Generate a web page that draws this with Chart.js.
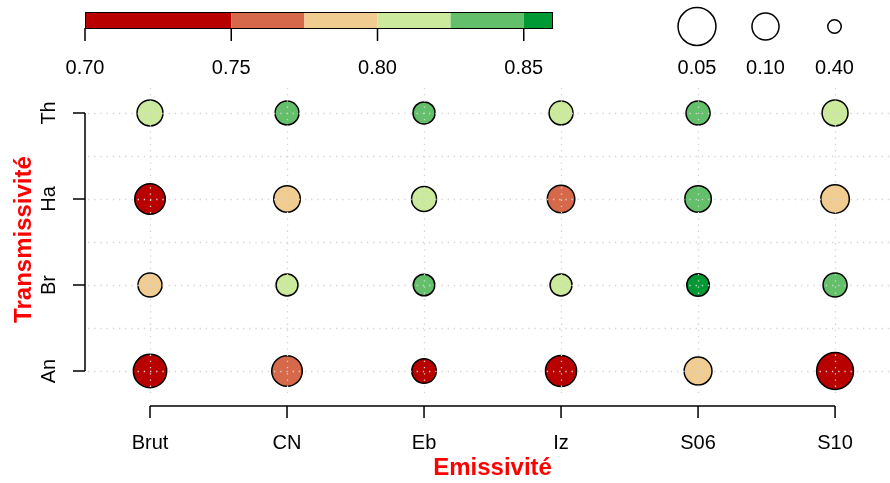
<!DOCTYPE html>
<html>
<head>
<meta charset="utf-8">
<script src="https://cdn.jsdelivr.net/npm/chart.js@4/dist/chart.umd.min.js"></script>
<style>
    html, body { margin: 0; padding: 0; background: #ffffff; }
    #wrap { width: 890px; height: 483px; }
</style>
</head>
<body>
<div id="wrap"><canvas id="bubbleChart"></canvas></div>
<script>
const emissivite = ["Brut", "CN", "Eb", "Iz", "S06", "S10"];
const transmissivite = ["An", "Br", "Ha", "Th"];

// colour value per cell (one array per transmissivity row, in emissivite order)
const valAn = [0.72, 0.765, 0.73, 0.72, 0.785, 0.71];
const valBr = [0.79, 0.81, 0.835, 0.815, 0.855, 0.84];
const valHa = [0.72, 0.79, 0.81, 0.76, 0.835, 0.79];
const valTh = [0.81, 0.835, 0.835, 0.81, 0.835, 0.81];

// p-values (circle size)
const pAn = [0.065, 0.078, 0.122, 0.075, 0.094, 0.053];
const pBr = [0.127, 0.153, 0.159, 0.153, 0.145, 0.127];
const pHa = [0.078, 0.104, 0.118, 0.097, 0.104, 0.090];
const pTh = [0.109, 0.129, 0.151, 0.129, 0.127, 0.109];

const colorBreaks = [0.70, 0.75, 0.775, 0.80, 0.825, 0.85, 0.86];
const colorTicks = [0.70, 0.75, 0.80, 0.85];
const sizeLegend = [0.05, 0.10, 0.40];

const palette = ["#B80000", "#D6694A", "#F0CC90", "#CCEA9C", "#63BF69", "#009933"];
const FONT = "\"Liberation Sans\", Arial, Helvetica, sans-serif";

function colorFor(v){
    for(let i = 0; i < palette.length; i++){
        if(v < colorBreaks[i + 1]) return palette[i];
    }
    return palette[palette.length - 1];
}

function radiusFor(p){
    // outer radius ~ 4.9 * p^-0.4645, minus half the stroke
    return 4.9 * Math.pow(p, -0.4645) - 0.75;
}

const rowsVal = [valAn, valBr, valHa, valTh];
const rowsP = [pAn, pBr, pHa, pTh];
const points = [];
const fills = [];
rowsVal.forEach((row, yi) => {
    row.forEach((v, xi) => {
        points.push({ x: xi, y: yi, r: radiusFor(rowsP[yi][xi]) });
        fills.push(colorFor(v));
    });
});

const overlay = {
    id: "overlay",
    afterDatasetsDraw(chart){
        const ctx = chart.ctx;
        const area = chart.chartArea;
        const xs = chart.scales.x;
        const ys = chart.scales.y;

        // dotted grid on top of the circles
        ctx.save();
        ctx.strokeStyle = "#D3D3D3";
        ctx.lineWidth = 1.3;
        ctx.setLineDash([1.3, 4.9]);
        emissivite.forEach((c, i) => {
            const px = Math.round(xs.getPixelForValue(i)) + 0.5;
            ctx.beginPath();
            ctx.moveTo(px, area.top);
            ctx.lineTo(px, area.bottom);
            ctx.stroke();
        });
        for(let v = 0; v <= transmissivite.length - 1; v += 0.5){
            const py = Math.round(ys.getPixelForValue(v)) + 0.5;
            ctx.beginPath();
            ctx.moveTo(area.left, py);
            ctx.lineTo(area.right, py);
            ctx.stroke();
        }
        ctx.restore();

        // axes, R style
        ctx.save();
        ctx.strokeStyle = "#000000";
        ctx.lineWidth = 1.5;
        const axX = area.left - 3;
        const axY = area.bottom + 9;
        ctx.beginPath();
        ctx.moveTo(axX, ys.getPixelForValue(0));
        ctx.lineTo(axX, ys.getPixelForValue(transmissivite.length - 1));
        transmissivite.forEach((t, i) => {
            const py = ys.getPixelForValue(i);
            ctx.moveTo(axX, py);
            ctx.lineTo(axX - 12, py);
        });
        ctx.moveTo(xs.getPixelForValue(0), axY);
        ctx.lineTo(xs.getPixelForValue(emissivite.length - 1), axY);
        emissivite.forEach((e, i) => {
            const px = xs.getPixelForValue(i);
            ctx.moveTo(px, axY);
            ctx.lineTo(px, axY + 12);
        });
        ctx.stroke();

        ctx.fillStyle = "#000000";
        ctx.font = "20px " + FONT;
        ctx.textAlign = "center";
        ctx.textBaseline = "alphabetic";
        emissivite.forEach((e, i) => {
            ctx.fillText(e, xs.getPixelForValue(i), axY + 43);
        });
        transmissivite.forEach((t, i) => {
            ctx.save();
            ctx.translate(axX - 30, ys.getPixelForValue(i));
            ctx.rotate(-Math.PI / 2);
            ctx.fillText(t, 0, 0);
            ctx.restore();
        });

        // axis titles
        ctx.fillStyle = "#FF0000";
        ctx.font = "bold 24px " + FONT;
        const midX = (xs.getPixelForValue(0) + xs.getPixelForValue(emissivite.length - 1)) / 2;
        ctx.fillText("Emissivité", midX, 475);
        ctx.save();
        ctx.translate(31, (area.top + area.bottom) / 2 - 3);
        ctx.rotate(-Math.PI / 2);
        ctx.fillText("Transmissivité", 0, 0);
        ctx.restore();
        ctx.restore();

        // colour bar legend
        ctx.save();
        const barL = 85, barR = 553, barT = 12, barB = 28;
        const vMin = colorBreaks[0], vMax = colorBreaks[colorBreaks.length - 1];
        const toX = v => barL + (v - vMin) / (vMax - vMin) * (barR - barL);
        for(let i = 0; i < palette.length; i++){
            ctx.fillStyle = palette[i];
            ctx.fillRect(toX(colorBreaks[i]), barT, toX(colorBreaks[i + 1]) - toX(colorBreaks[i]), barB - barT);
        }
        ctx.strokeStyle = "#000000";
        ctx.lineWidth = 1;
        ctx.strokeRect(barL + 0.5, barT + 0.5, barR - barL - 1, barB - barT);
        ctx.lineWidth = 1.5;
        ctx.beginPath();
        colorTicks.forEach(v => {
            ctx.moveTo(toX(v), barB);
            ctx.lineTo(toX(v), barB + 13);
        });
        ctx.stroke();
        ctx.fillStyle = "#000000";
        ctx.font = "20px " + FONT;
        ctx.textAlign = "center";
        colorTicks.forEach(v => {
            ctx.fillText(v.toFixed(2), toX(v), 74);
        });

        // size legend
        const legX = [697, 765.5, 834.5];
        ctx.lineWidth = 1.5;
        sizeLegend.forEach((p, i) => {
            ctx.beginPath();
            ctx.arc(legX[i], 26.5, radiusFor(p), 0, Math.PI * 2);
            ctx.stroke();
            ctx.fillText(p.toFixed(2), legX[i], 74);
        });
        ctx.restore();
    }
};

new Chart(document.getElementById("bubbleChart"), {
    type: "bubble",
    data: {
        datasets: [{
            label: "r",
            data: points,
            backgroundColor: fills,
            borderColor: "#000000",
            borderWidth: 1.5,
            hoverBorderWidth: 1.5,
            hoverRadius: 0
        }]
    },
    options: {
        responsive: true,
        maintainAspectRatio: false,
        animation: false,
        events: [],
        layout: { autoPadding: false, padding: { left: 88, right: 0, top: 88, bottom: 86 } },
        scales: {
            x: { type: "linear", display: false, min: -0.4526, max: 5.401 },
            y: { type: "linear", display: false, min: -0.302, max: 3.29 }
        },
        plugins: {
            legend: { display: false },
            tooltip: { enabled: false }
        }
    },
    plugins: [overlay]
});
</script>
</body>
</html>
